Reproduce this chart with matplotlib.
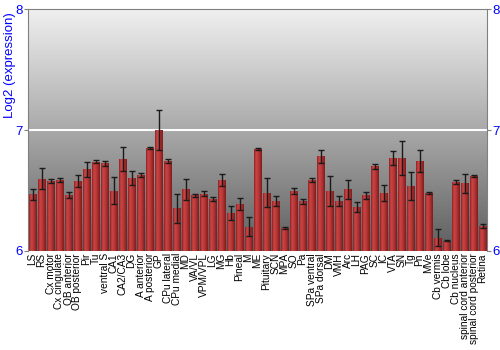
import numpy as np
import matplotlib
matplotlib.use("Agg")
import matplotlib.pyplot as plt
from matplotlib.colors import LinearSegmentedColormap

plt.rcParams["font.family"] = ["Liberation Sans", "DejaVu Sans"]

regions = [
    "LS", "RS", "Cx motor", "Cx cingulate", "OB anterior", "OB posterior", "Pir",
    "Tu", "ventral S", "CA1", "CA2/CA3", "DG", "A anterior", "A posterior", "GP",
    "CPu lateral", "CPu medial", "MD", "VA/VL", "VPM/VPL", "LG", "MG", "Hb",
    "Pineal", "M", "ME", "Pituitary", "SCN", "MPA", "SO", "Pa", "SPa ventral",
    "SPa dorsal", "DM", "VMH", "Arc", "LH", "PAG", "SC", "IC", "VTA", "SN", "Tg",
    "Pn", "MVe", "Cb vermis", "Cb lobe", "Cb nucleus", "spinal cord anterior",
    "spinal cord posterior", "Retina",
]
expression = [
    6.47, 6.60, 6.58, 6.59, 6.46, 6.58, 6.675, 6.74, 6.725, 6.50, 6.76, 6.605,
    6.63, 6.85, 7.00, 6.744, 6.355, 6.51, 6.46, 6.475, 6.43, 6.584, 6.314, 6.39,
    6.20, 6.843, 6.48, 6.413, 6.19, 6.50, 6.41, 6.59, 6.785, 6.496, 6.413, 6.51,
    6.364, 6.46, 6.70, 6.48, 6.77, 6.77, 6.535, 6.744, 6.48, 6.11, 6.083, 6.57,
    6.56, 6.62, 6.21,
]
errors = [
    0.045, 0.085, 0.02, 0.015, 0.025, 0.05, 0.06, 0.015, 0.02, 0.115, 0.10, 0.055,
    0.018, 0.007, 0.165, 0.015, 0.12, 0.085, 0.01, 0.02, 0.02, 0.05, 0.055, 0.05,
    0.08, 0.01, 0.12, 0.04, 0.01, 0.025, 0.02, 0.015, 0.055, 0.125, 0.04, 0.077,
    0.045, 0.03, 0.02, 0.07, 0.055, 0.14, 0.115, 0.094, 0.006, 0.07, 0.004, 0.017,
    0.08, 0.008, 0.017,
]
y_ticks = [6, 7, 8]

fig = plt.figure(figsize=(5, 3.5), dpi=100)
ax = fig.add_axes([0.056, 0.283, 0.918, 0.69])

x = np.arange(len(regions))
ax.set_xlim(-0.5, len(regions) - 0.5)
ax.set_ylim(6, 8)

# vertical grey gradient background
bg = LinearSegmentedColormap.from_list("bg", ["#5e5e5e", "#a9a9a9", "#f0f0f0"])
ax.imshow(np.linspace(0, 1, 256).reshape(-1, 1), cmap=bg, aspect="auto",
          extent=[-0.5, len(regions) - 0.5, 6, 8], origin="lower", zorder=0)

ax.axhline(7, color="white", linewidth=1.5, zorder=1)

bars = ax.bar(x, np.array(expression) - 6, bottom=6, width=0.8,
              color="#b53636", edgecolor="#7a1818", linewidth=0.6, zorder=2)

# horizontal shading inside each bar
shade = LinearSegmentedColormap.from_list(
    "shade", ["#8e2222", "#c94444", "#bf3b3b", "#a22c2c", "#7e1c1c"])
grad = np.linspace(0, 1, 64).reshape(1, -1)
for b in bars:
    im = ax.imshow(grad, cmap=shade, aspect="auto",
                   extent=[b.get_x(), b.get_x() + b.get_width(), 6, b.get_y() + b.get_height()],
                   zorder=2.5)
    im.set_clip_path(b)

ax.errorbar(x, expression, yerr=errors, fmt="none", ecolor="#1a1a1a",
            elinewidth=1, capsize=2.2, capthick=1, zorder=3)

ax.set_xticks(x)
ax.set_xticklabels(regions, rotation=90, fontsize=7.3)
ax.tick_params(axis="x", length=0, pad=1.5)

ax.set_yticks(y_ticks)
ax.set_yticklabels([str(t) for t in y_ticks])
ax.tick_params(axis="y", colors="#808080", labelcolor="blue", labelsize=9.5,
               length=3, pad=1, right=True, labelright=True)
ax.set_ylabel("Log2 (expression)", color="blue", fontsize=9.5)
ax.yaxis.set_label_coords(-0.027, 0.77)

for side in ["left", "right", "top"]:
    ax.spines[side].set_color("#808080")
ax.spines["bottom"].set_visible(False)

fig.savefig("out.png", dpi=100)
plt.close(fig)
